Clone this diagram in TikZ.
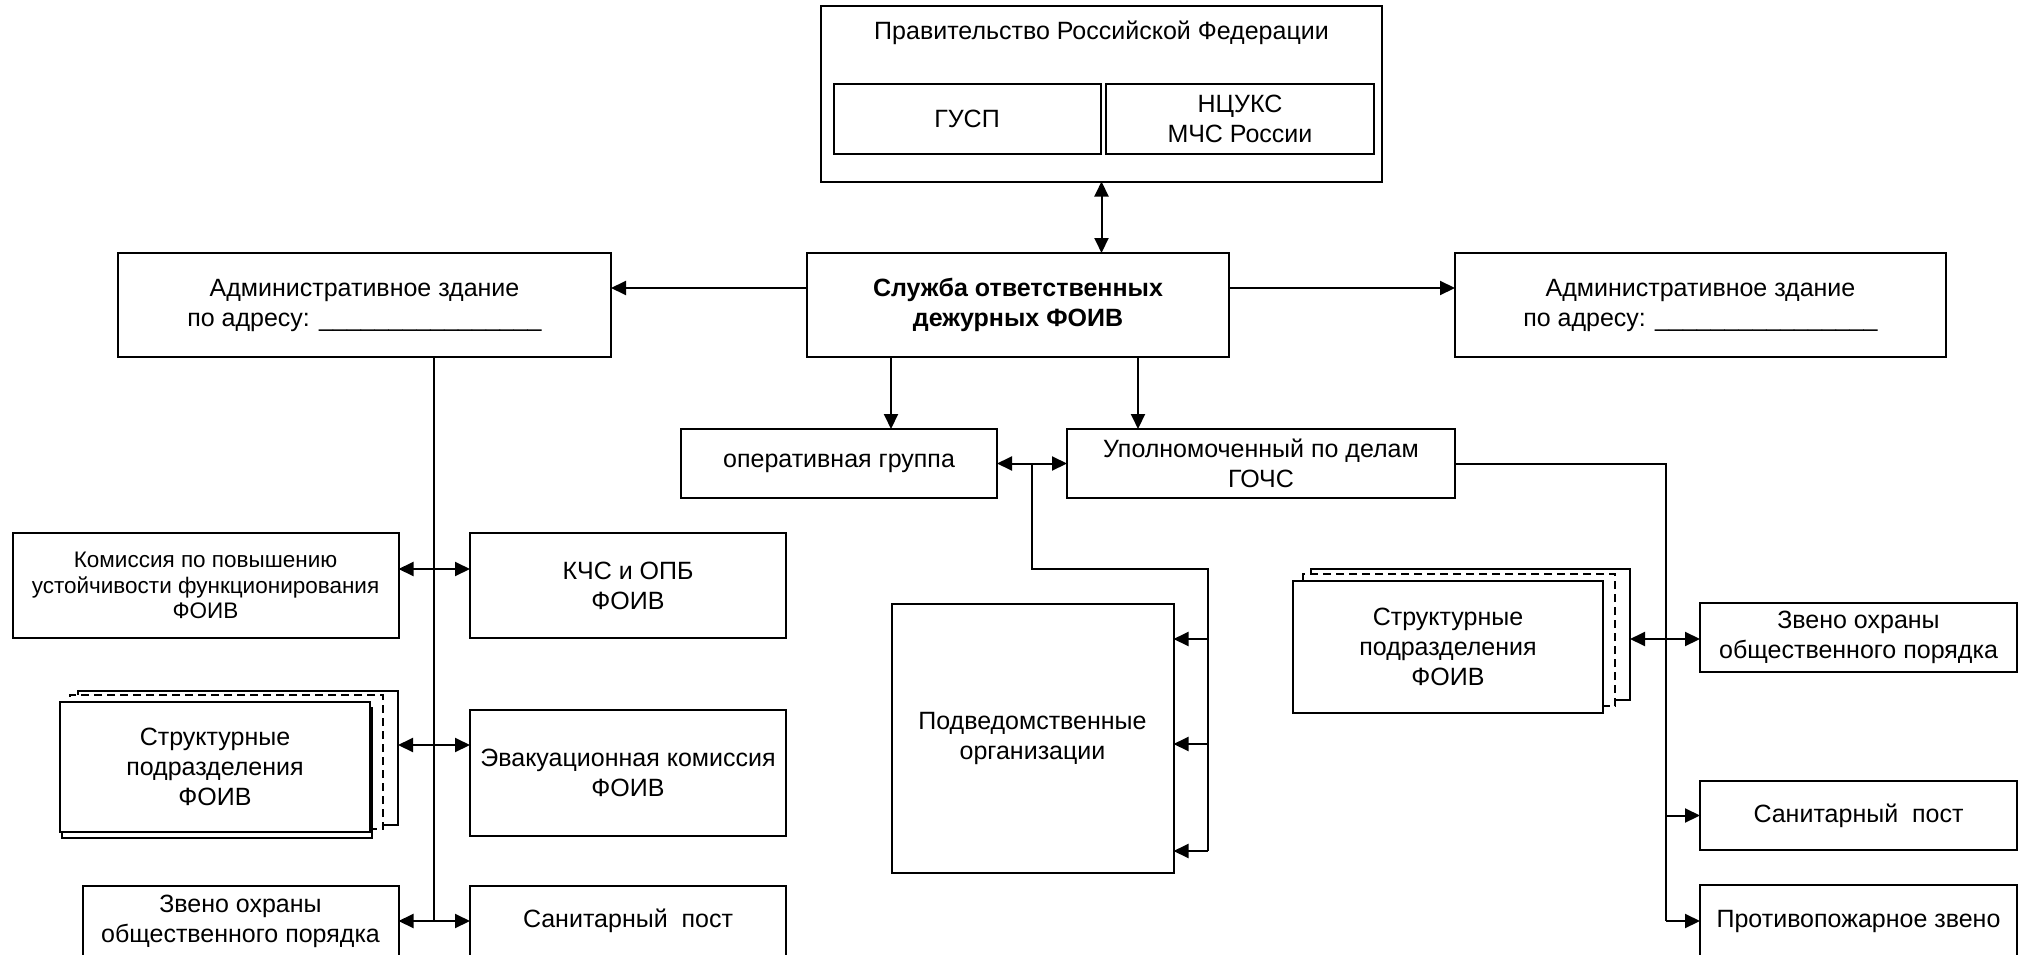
\documentclass[tikz,border=0pt]{standalone}
\usepackage{fontspec}
\setmainfont{Liberation Sans}
\usepackage{tikz}
\usetikzlibrary{arrows.meta}
\tikzset{
  %box style for every unit
  unit/.style={
    draw
    , fill=white
    , line width=2pt
    , align=center
    , inner sep=0pt
    , outer sep=0pt
    , font=\fontsize{25}{30}\selectfont
  },
  %second sheet of a stack
  sheet/.style={
    unit
    , dashed
    , dash pattern=on 8pt off 5pt
  },
  line/.style={line width=2pt},
  link/.style={line width=2pt, -{Triangle[length=15pt,width=14pt]}},
  both/.style={line width=2pt, {Triangle[length=15pt,width=14pt]}-{Triangle[length=15pt,width=14pt]}},
}

\begin{document}
\begin{tikzpicture}[x=1pt, y=-1pt]
  \clip (0,0) rectangle (2031,955);

  % top
  \node[unit, minimum width=561pt, minimum height=175pt] (gov) at (1101.5,94) {};
  \node[font=\fontsize{25}{30}\selectfont, anchor=base] (govtitle) at (1101.5,40)
    {Правительство Российской Федерации};
  \node[unit, minimum width=267pt, minimum height=70pt] (gusp) at (967,119) {ГУСП};
  \node[unit, minimum width=268pt, minimum height=70pt] (ncuks) at (1240,119) {НЦУКС\\МЧС России};

  \node[unit, minimum width=422pt, minimum height=104pt, font=\fontsize{25}{30}\selectfont\bfseries]
    (main) at (1018,305) {Служба ответственных\\дежурных ФОИВ};
  \node[unit, minimum width=493pt, minimum height=104pt] (admL) at (364.5,305)
    {Административное здание\\по адресу: \_\_\_\_\_\_\_\_\_\_\_\_\_\_\_\_};
  \node[unit, minimum width=491pt, minimum height=104pt] (admR) at (1700.5,305)
    {Административное здание\\по адресу: \_\_\_\_\_\_\_\_\_\_\_\_\_\_\_\_};

  \node[unit, minimum width=316pt, minimum height=69pt] (opgr) at (839,463.5) {оперативная группа};
  \node[unit, minimum width=388pt, minimum height=69pt] (upol) at (1261,463.5)
    {Уполномоченный по делам\\ГОЧС};

  % left column
  \node[unit, minimum width=386pt, minimum height=105pt, font=\fontsize{22.5}{25.5}\selectfont]
    (kom) at (205.5,585.5)
    {Комиссия по повышению\\устойчивости функционирования\\ФОИВ};
  \node[unit, minimum width=316pt, minimum height=105pt] (kchs) at (628,585.5) {КЧС и ОПБ\\ФОИВ};

  \node[unit, minimum width=320pt, minimum height=134pt] (strLb) at (238,758) {};
  \node[sheet, minimum width=313pt, minimum height=134pt] (strLd) at (226.5,762) {};
  \node[unit, minimum width=310pt, minimum height=130pt] (strLs) at (217,773) {};
  \node[unit, minimum width=310pt, minimum height=130pt] (strL) at (215,767)
    {Структурные\\подразделения\\ФОИВ};
  \node[unit, minimum width=316pt, minimum height=126pt] (evak) at (628,773)
    {Эвакуационная комиссия\\ФОИВ};

  \node[unit, minimum width=316pt, minimum height=70pt] (zvL) at (240.5,921)
    {Звено охраны\\общественного порядка};
  \node[unit, minimum width=316pt, minimum height=70pt] (sanL) at (628,921) {Санитарный\ \ пост};

  % middle
  \node[unit, minimum width=282pt, minimum height=269pt] (podv) at (1032.5,738)
    {Подведомственные\\организации};

  % right column
  \node[unit, minimum width=319pt, minimum height=131pt] (strRb) at (1470.5,634.5) {};
  \node[sheet, minimum width=312pt, minimum height=132pt] (strRd) at (1459,640) {};
  \node[unit, minimum width=310pt, minimum height=132pt] (strR) at (1448,647)
    {Структурные\\подразделения\\ФОИВ};
  \node[unit, minimum width=317pt, minimum height=69pt] (zvR) at (1858.5,637)
    {Звено охраны\\общественного порядка};
  \node[unit, minimum width=317pt, minimum height=69pt] (sanR) at (1858.5,815.5) {Санитарный\ \ пост};
  \node[unit, minimum width=317pt, minimum height=72pt] (pozh) at (1858.5,921) {Противопожарное звено};

  % connectors
  \draw[both] (gov.south) -- (gov.south |- main.north);
  \draw[link] (main.west |- 0,288) -- (admL.east |- 0,288);
  \draw[link] (main.east |- 0,288) -- (admR.west |- 0,288);
  \draw[link] (main.south -| 891,0) -- (opgr.north -| 891,0);
  \draw[link] (main.south -| 1138,0) -- (upol.north -| 1138,0);
  \draw[both] (opgr.east) -- (upol.west);

  \coordinate (opjoin) at (1032,463.5);
  \coordinate (podrail) at (1208,569);
  \draw[line] (opjoin) |- (podrail) -- (podrail |- 0,851);
  \foreach \yy in {639,744,851}
    \draw[link] (podrail |- 0,\yy) -- (podv.east |- 0,\yy);

  \coordinate (lrail) at (434,921);
  \draw[line] (admL.south -| lrail) -- (lrail);
  \draw[both] (kom.east |- 0,569) -- (kchs.west |- 0,569);
  \draw[both] (strLb.east |- 0,745) -- (evak.west |- 0,745);
  \draw[both] (zvL.east) -- (sanL.west);

  \coordinate (rrail) at (1666,921);
  \draw[line] (upol.east) -| (rrail);
  \draw[both] (strRb.east |- 0,639) -- (zvR.west |- 0,639);
  \draw[link] (rrail |- sanR.west) -- (sanR.west);
  \draw[link] (rrail) -- (pozh.west);
\end{tikzpicture}
\end{document}
